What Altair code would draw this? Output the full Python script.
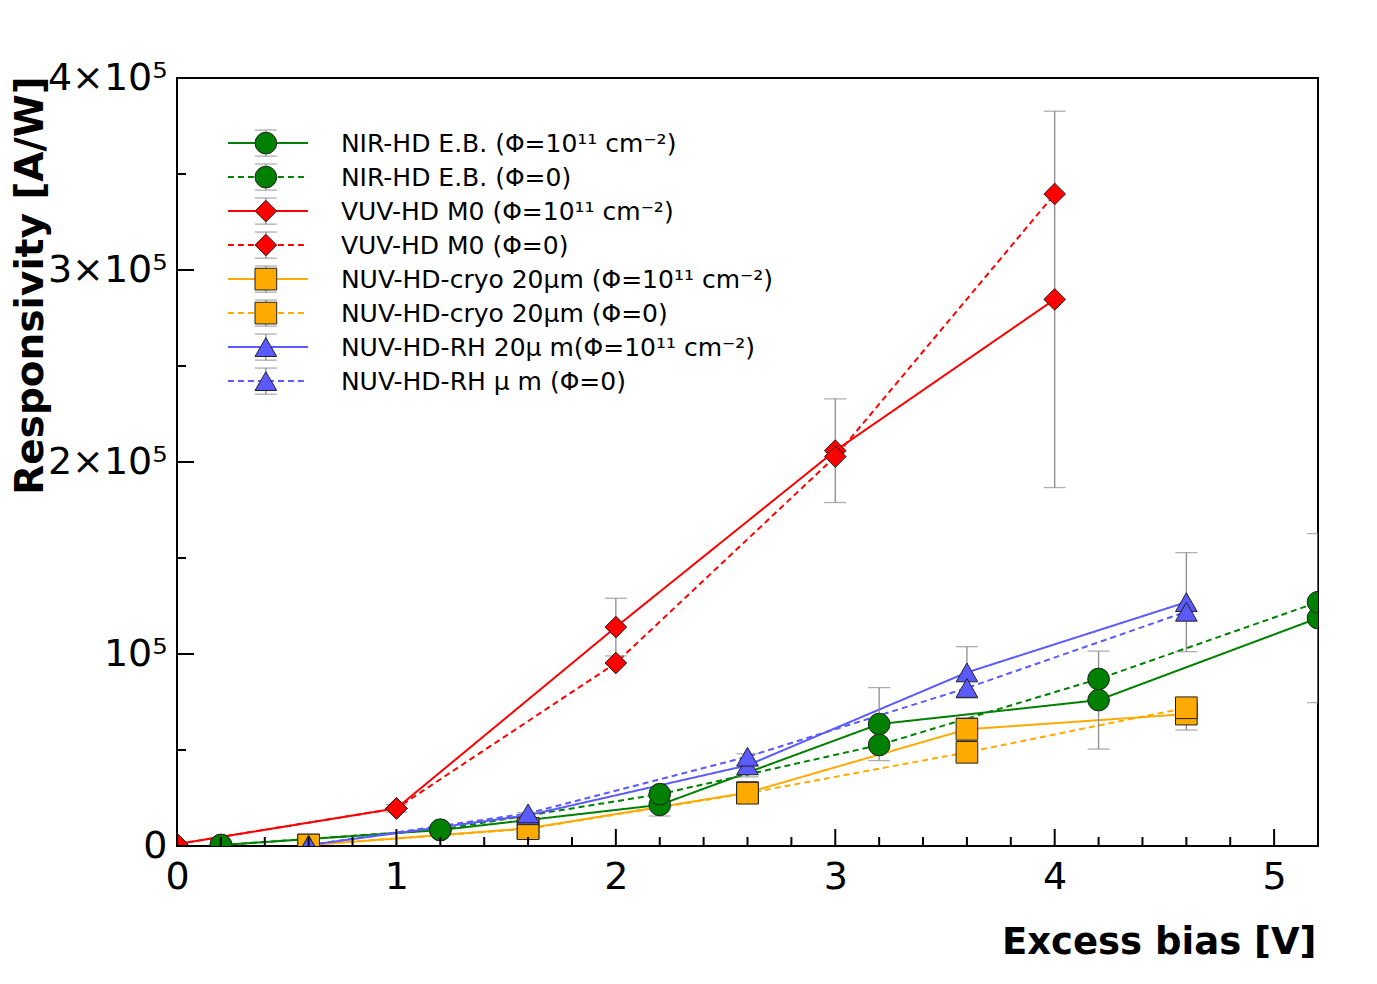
"""
Responsivity vs excess bias for irradiated and non-irradiated SiPMs
"""
import pandas as pd
import altair as alt

# Series labels, colours, marker shapes, dash (solid = irradiated, dashed = Phi=0)
labels = [
    "NIR-HD E.B. (Φ=10¹¹ cm⁻²)",
    "NIR-HD E.B. (Φ=0)",
    "VUV-HD M0 (Φ=10¹¹ cm⁻²)",
    "VUV-HD M0 (Φ=0)",
    "NUV-HD-cryo 20µm (Φ=10¹¹ cm⁻²)",
    "NUV-HD-cryo 20µm (Φ=0)",
    "NUV-HD-RH 20µ m(Φ=10¹¹ cm⁻²)",
    "NUV-HD-RH µ m (Φ=0)",
]
colors = ["#008000", "#008000", "#ff0000", "#ff0000",
          "#ffaa00", "#ffaa00", "#5a5aff", "#5a5aff"]
shapes = ["circle", "circle", "diamond", "diamond",
          "square", "square", "triangle-up", "triangle-up"]
dashes = [[1, 0], [6, 4], [1, 0], [6, 4], [1, 0], [6, 4], [1, 0], [6, 4]]

# Excess bias [V]
bias_nir = [0.2, 1.2, 2.2, 3.2, 4.2, 5.2]
bias_vuv = [0, 1, 2, 3, 4]
bias_nuv = [0.6, 1.6, 2.6, 3.6, 4.6]

# Responsivity [A/W] and errors (errors only drawn on irradiated curves)
nir_irr = [500, 8300, 21400, 63500, 76000, 118700]
nir_irr_err = [300, 1000, 5800, 19000, 25500, 44000]
nir_0 = [500, 8500, 27000, 52600, 87000, 127000]

vuv_irr = [1000, 19600, 114000, 205900, 284700]
vuv_irr_err = [500, 2000, 15000, 27000, 98000]
vuv_0 = [1000, 19600, 95300, 202800, 339600]

cryo_irr = [500, 9200, 27800, 60800, 68700]
cryo_irr_err = [300, 1000, 2500, 6000, 8300]
cryo_0 = [500, 9000, 27500, 48800, 72000]

rh_irr = [500, 16000, 42000, 90400, 127000]
rh_irr_err = [300, 1500, 6000, 13400, 25800]
rh_0 = [500, 17000, 46500, 82300, 122000]

# Axis ticks
x_major = [0, 1, 2, 3, 4, 5]
x_minor = [0.2, 0.4, 0.6, 0.8, 1.2, 1.4, 1.6, 1.8, 2.2, 2.4, 2.6, 2.8,
           3.2, 3.4, 3.6, 3.8, 4.2, 4.4, 4.6, 4.8, 5.2]
y_major = [0, 100000, 200000, 300000, 400000]
y_minor = [50000, 150000, 250000, 350000]

W, H = 1141, 768
FONT = "DejaVu Sans"

# Build long table
series = [
    (labels[0], bias_nir, nir_irr, nir_irr_err),
    (labels[1], bias_nir, nir_0, None),
    (labels[2], bias_vuv, vuv_irr, vuv_irr_err),
    (labels[3], bias_vuv, vuv_0, None),
    (labels[4], bias_nuv, cryo_irr, cryo_irr_err),
    (labels[5], bias_nuv, cryo_0, None),
    (labels[6], bias_nuv, rh_irr, rh_irr_err),
    (labels[7], bias_nuv, rh_0, None),
]
rows = []
for name, xs, ys, es in series:
    for i, (x, y) in enumerate(zip(xs, ys)):
        rows.append({"series": name, "bias": x, "resp": y,
                     "err": es[i] if es else 0})
df = pd.DataFrame(rows)

color_scale = alt.Scale(domain=labels, range=colors)
shape_scale = alt.Scale(domain=labels, range=shapes)
dash_scale = alt.Scale(domain=labels, range=dashes)

x_enc = alt.X("bias:Q", scale=alt.Scale(domain=[0, 5.2], nice=False),
              axis=alt.Axis(values=x_major, format="d", title="Excess bias [V]",
                            ticks=False, domain=False, grid=False,
                            labelFontSize=38, labelFont=FONT, labelPadding=12,
                            labelColor="black", labelFlush=False,
                            titleFontSize=37, titleFont=FONT, titleFontWeight="bold",
                            titleColor="black", titleX=W - 2, titleY=96,
                            titleAlign="right", titleBaseline="middle"))
y_enc = alt.Y("resp:Q", scale=alt.Scale(domain=[0, 400000], nice=False),
              axis=alt.Axis(values=y_major, title="Responsivity [A/W]",
                            ticks=False, domain=False, grid=False,
                            labelExpr="datum.value == 0 ? '0' : datum.value == 100000 ? '10⁵' : "
                                      "format(datum.value / 100000, 'd') + '×10⁵'",
                            labelFontSize=38, labelFont=FONT, labelPadding=10,
                            labelColor="black", labelFlush=False,
                            titleFontSize=39, titleFont=FONT, titleFontWeight="bold",
                            titleColor="black", titleX=-147, titleY=-2, titleAngle=270,
                            titleAlign="right", titleBaseline="middle"))

base = alt.Chart(df)

lines = base.mark_line(strokeWidth=2, clip=True).encode(
    x=x_enc, y=y_enc,
    color=alt.Color("series:N", scale=color_scale, legend=None),
    strokeDash=alt.StrokeDash("series:N", scale=dash_scale, legend=None),
    order="bias:Q",
)

err_base = base.transform_filter("datum.err > 0").transform_calculate(
    lo="datum.resp - datum.err", hi="datum.resp + datum.err")
err_bars = err_base.mark_rule(color="#8c8c8c", strokeWidth=1.3, clip=True).encode(
    x="bias:Q", y="lo:Q", y2="hi:Q")
err_caps = err_base.transform_fold(["lo", "hi"], as_=["end", "val"]).mark_tick(
    color="#8c8c8c", orient="horizontal", size=22, thickness=1.3, clip=True
).encode(x="bias:Q", y="val:Q")

points = base.mark_point(filled=True, size=470, opacity=1, stroke="#222222",
                         strokeWidth=1, clip=True).encode(
    x="bias:Q", y="resp:Q",
    fill=alt.Fill("series:N", scale=color_scale, legend=None),
    shape=alt.Shape("series:N", scale=shape_scale, legend=None),
)

# Axis ticks drawn inside the frame
xt_major = alt.Chart(pd.DataFrame({"v": x_major})).mark_rule(color="black", strokeWidth=2).encode(
    x="v:Q", y=alt.value(H), y2=alt.value(H - 17))
xt_minor = alt.Chart(pd.DataFrame({"v": x_minor})).mark_rule(color="black", strokeWidth=2).encode(
    x="v:Q", y=alt.value(H), y2=alt.value(H - 9))
yt_major = alt.Chart(pd.DataFrame({"v": y_major})).mark_rule(color="black", strokeWidth=2).encode(
    y="v:Q", x=alt.value(0), x2=alt.value(17))
yt_minor = alt.Chart(pd.DataFrame({"v": y_minor})).mark_rule(color="black", strokeWidth=2).encode(
    y="v:Q", x=alt.value(0), x2=alt.value(9))

# Legend (rows placed in data units inside the frame)
leg = alt.Chart(pd.DataFrame({"series": labels, "row": list(range(len(labels)))})).transform_calculate(
    ly="366100 - datum.row * 17710",
    lo="datum.ly - 6800", hi="datum.ly + 6800",
    x1="0.232", x2="0.597", xm="0.405", xt="0.747")
leg_lines = leg.mark_rule(strokeWidth=2).encode(
    x="x1:Q", x2="x2:Q", y="ly:Q",
    color=alt.Color("series:N", scale=color_scale, legend=None),
    strokeDash=alt.StrokeDash("series:N", scale=dash_scale, legend=None))
leg_err = leg.mark_rule(color="#8c8c8c", strokeWidth=1.3).encode(
    x="xm:Q", y="lo:Q", y2="hi:Q")
leg_caps = leg.transform_fold(["lo", "hi"], as_=["end", "val"]).mark_tick(
    color="#8c8c8c", orient="horizontal", size=22, thickness=1.3).encode(x="xm:Q", y="val:Q")
leg_pts = leg.mark_point(filled=True, size=470, opacity=1, stroke="#222222", strokeWidth=1).encode(
    x="xm:Q", y="ly:Q",
    fill=alt.Fill("series:N", scale=color_scale, legend=None),
    shape=alt.Shape("series:N", scale=shape_scale, legend=None))
leg_text = leg.mark_text(align="left", baseline="middle", fontSize=25, font=FONT,
                         color="black", dy=1).encode(
    x="xt:Q", y="ly:Q", text="series:N")

chart = alt.layer(
    lines, err_bars, err_caps, points,
    leg_lines, leg_err, leg_caps, leg_pts, leg_text,
    xt_major, xt_minor, yt_major, yt_minor,
).properties(
    width=W, height=H,
    padding={"left": 169, "top": 70, "right": 51, "bottom": 130},
    autosize=alt.AutoSizeParams(type="none"),
    background="white",
).configure_view(
    stroke="black", strokeWidth=2
)

chart.save("out.html", embed_options={"renderer": "svg", "actions": False})
